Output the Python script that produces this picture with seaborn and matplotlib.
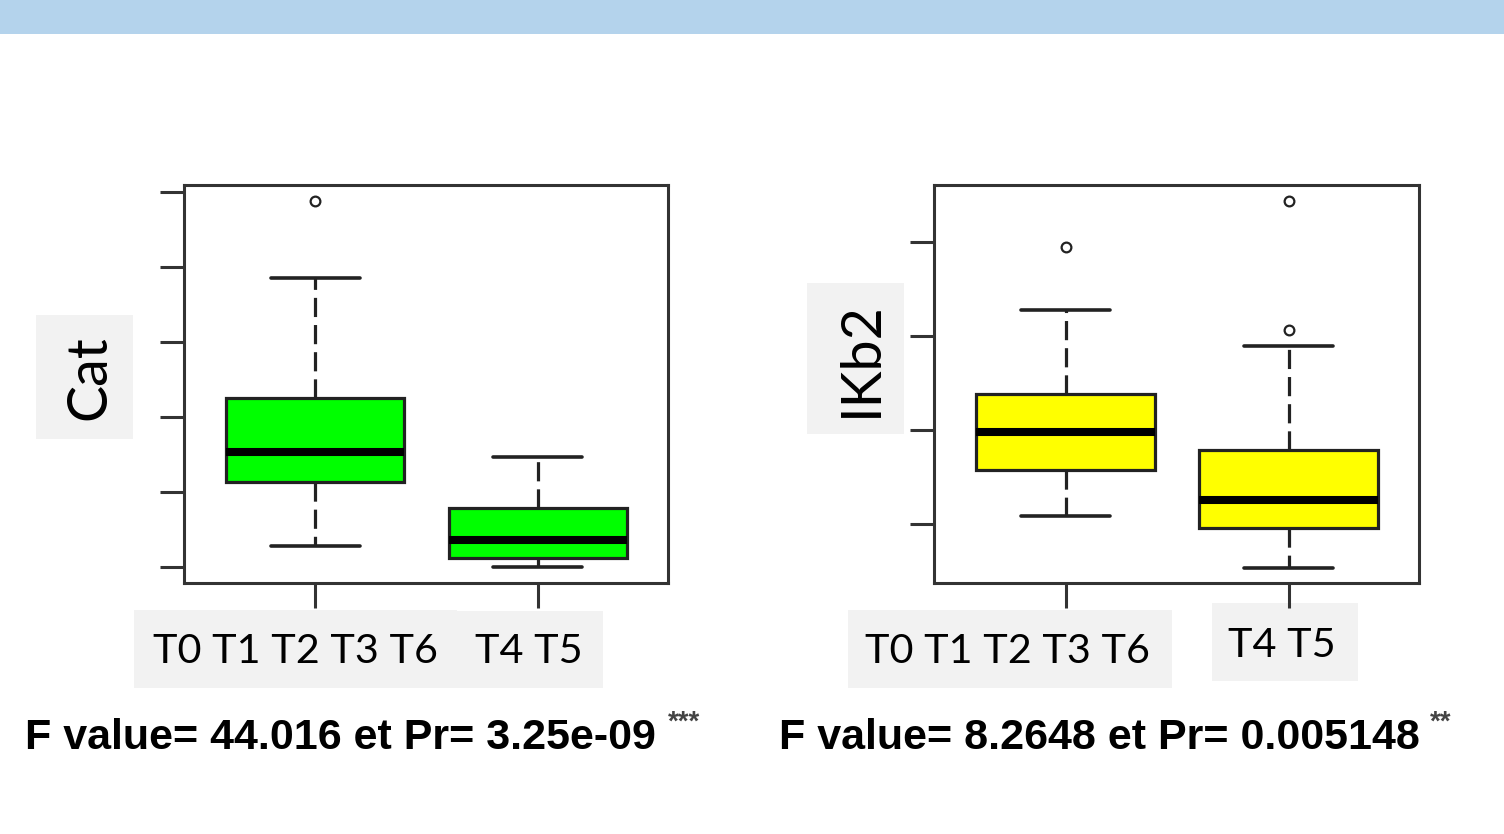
import pandas as pd
import matplotlib.pyplot as plt
import matplotlib.transforms as mtransforms
from matplotlib.patches import Rectangle
from matplotlib import font_manager
import seaborn as sns

# data (arbitrary units)
groups = ["T0 T1 T2 T3 T6", "T4 T5"]
cat_a = [0.28, 0.75, 1.14, 1.35, 1.54, 1.90, 2.26, 3.85, 4.87]
cat_b = [0.00, 0.06, 0.12, 0.25, 0.36, 0.55, 0.79, 1.10, 1.47]
ikb2_a = [1.09, 1.35, 1.58, 1.80, 1.98, 2.20, 2.38, 3.28, 3.94]
ikb2_b = [0.54, 0.75, 0.88, 0.96, 1.05, 1.15, 1.26, 1.40, 1.60, 1.79, 2.89, 3.06, 4.43]
stats_text = ["F value= 44.016 et Pr= 3.25e-09", "F value= 8.2648 et Pr= 0.005148"]
stars = ["***", "**"]

cat_df = pd.DataFrame({"group": [groups[0]] * len(cat_a) + [groups[1]] * len(cat_b),
                       "value": cat_a + cat_b})
ikb2_df = pd.DataFrame({"group": [groups[0]] * len(ikb2_a) + [groups[1]] * len(ikb2_b),
                        "value": ikb2_a + ikb2_b})

sns.set_style("ticks")
plt.rcParams["font.family"] = ["Lato", "DejaVu Sans"]

W, H = 1504, 834
fig = plt.figure(figsize=(W / 100, H / 100), dpi=100)


def grey_box(x0, y0, x1, y1, color="#F2F2F2"):
    fig.add_artist(Rectangle((x0 / W, 1 - y1 / H), (x1 - x0) / W, (y1 - y0) / H,
                             transform=fig.transFigure, facecolor=color,
                             edgecolor="none", zorder=-1))


# slide header band and label backgrounds
grey_box(0, 0, W, 34, color="#B4D3EC")
grey_box(36, 315, 133, 439)
grey_box(807, 283, 904, 434)
grey_box(134, 610, 457, 688)
grey_box(457, 611, 603, 688)
grey_box(848, 610, 1172, 688)
grey_box(1212, 603, 1358, 681)


def draw_panel(ax, df, color, ylabel, yticks, ylim, label_xy, shifts):
    sns.boxplot(data=df, x="group", y="value", order=groups, ax=ax,
                color=color, saturation=1, width=0.8, whis=1.5,
                linecolor="#222222", linewidth=2.3,
                whiskerprops=dict(linestyle=(0, (6, 2.5))),
                medianprops=dict(color="black", linewidth=5.8),
                capprops=dict(linewidth=2.6),
                flierprops=dict(marker="o", markersize=7, markerfacecolor="none",
                                markeredgecolor="#222222", markeredgewidth=1.6))
    ax.set_xlim(-0.59, 1.585)
    ax.set_ylim(*ylim)
    ax.set_yticks(yticks)
    ax.set_yticklabels([])
    ax.set_xticks([0, 1])
    ax.set_xticklabels(groups, fontsize=29.8, color="black")
    ax.set_xlabel("")
    ax.tick_params(axis="y", length=17.3, width=2.2, color="#333333", left=True)
    ax.tick_params(axis="x", length=18, width=2.2, color="#333333", pad=17.6, bottom=True)
    for sp in ax.spines.values():
        sp.set_visible(True)
        sp.set_linewidth(2.2)
        sp.set_color("#333333")
    ax.set_ylabel(ylabel, fontsize=40, va="baseline", ha="center", color="black")
    ax.yaxis.set_label_coords(*label_xy)
    for lbl, (dx, dy) in zip(ax.get_xticklabels(), shifts):
        lbl.set_transform(lbl.get_transform() +
                          mtransforms.ScaledTranslation(dx / 100, dy / 100, fig.dpi_scale_trans))


ax1 = fig.add_axes([184 / W, 1 - 583.3 / H, 484 / W, 398.3 / H])
draw_panel(ax1, cat_df, "#00FF00", "Cat", [0, 1, 2, 3, 4, 5], (-0.213, 5.089),
           (-0.162, 0.517), [(-20, 0), (-9.5, 0)])

ax2 = fig.add_axes([934 / W, 1 - 583.3 / H, 485 / W, 398.3 / H])
draw_panel(ax2, ikb2_df, "#FFFF00", "IKb2", [1, 2, 3, 4], (0.374, 4.602),
           (-0.117, 0.563), [(-58, 0), (-6.5, 6)])

# ANOVA result lines
names = {f.name for f in font_manager.fontManager.ttflist}
if "Liberation Sans Narrow" in names:
    fam, fsize = ["Liberation Sans Narrow", "DejaVu Sans"], 37
else:
    fam, fsize = ["Liberation Sans", "DejaVu Sans"], 31
for x0, txt in zip([25, 779], stats_text):
    fig.text(x0 / W, 1 - 749 / H, txt, family=fam, fontsize=fsize,
             fontweight="bold", va="baseline", ha="left", color="black")
for x0, s in zip([668, 1430], stars):
    fig.text(x0 / W, 1 - 710 / H, s, family=fam, fontsize=20,
             fontweight="bold", va="top", ha="left", color="#444444")

fig.savefig("out.png", dpi=100)
